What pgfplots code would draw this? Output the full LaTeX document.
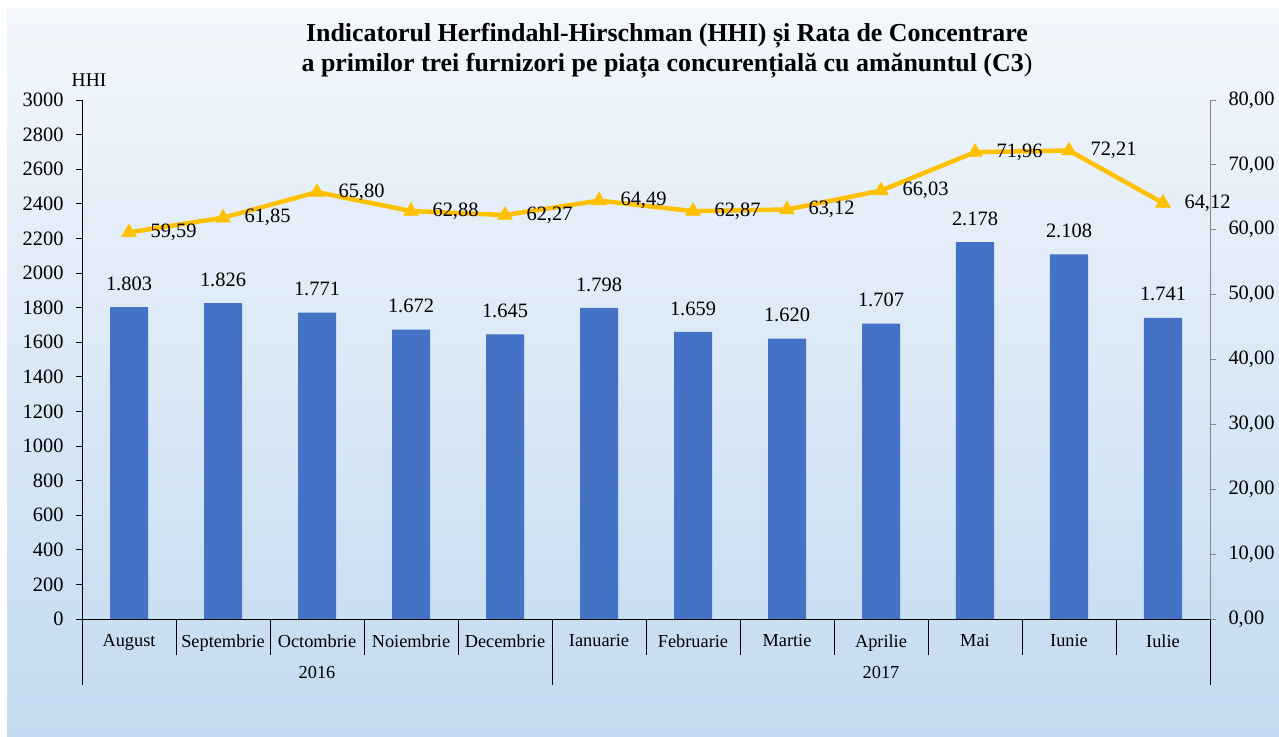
\documentclass[border=0pt]{standalone}
\usepackage{fontspec}
\setmainfont{Liberation Serif}
\usepackage{pgfplots}
\pgfplotsset{compat=1.18}
\definecolor{barblue}{HTML}{4472C4}
\definecolor{lineyel}{HTML}{FFC000}
\definecolor{bgtop}{HTML}{F3F7FC}
\definecolor{bgbot}{HTML}{C3DAF0}
\definecolor{raxis}{HTML}{868686}
\begin{document}
\begin{tikzpicture}
\useasboundingbox (0bp,0bp) rectangle (1279bp,737bp);
\fill[white] (0bp,0bp) rectangle (1279bp,737bp);
\shade[top color=bgtop, bottom color=bgbot] (7bp,0bp) rectangle (1279bp,728bp);
\node[font=\fontsize{26}{30}\selectfont\bfseries, align=center] at (667bp,686bp)
  {Indicatorul Herfindahl-Hirschman (HHI) și Rata de Concentrare\\a primilor trei furnizori pe piața concurențială cu amănuntul (C3\textmd{)}};
\node[font=\fontsize{19.5}{22}\selectfont] at (89bp,657bp) {HHI};
\begin{axis}[
  scale only axis, width=1128bp, height=519bp, at={(82bp,118bp)}, anchor=south west,
  xmin=-0.5, xmax=11.5, ymin=0, ymax=3000,
  axis y line*=left, axis x line*=bottom,
  axis line style={black, line width=0.8bp},
  ytick={0,200,...,3000},
  scaled y ticks=false,
  yticklabel style={font=\fontsize{20.5}{24}\selectfont, xshift=-9bp, /pgf/number format/1000 sep={}, /pgf/number format/assume math mode=true},
  xtick={0,...,11},
  xticklabels={August,Septembrie,Octombrie,Noiembrie,Decembrie,Ianuarie,Februarie,Martie,Aprilie,Mai,Iunie,Iulie},
  xticklabel style={font=\fontsize{18.4}{22}\selectfont, yshift=-6bp},
  major x tick style={draw=none},
  tick align=outside, major tick length=6bp,
  tick style={black, line width=0.8bp},
  clip=false,
]
\addplot[ybar, bar width=38bp, fill=barblue, draw=none,
  nodes near coords={\pgfmathprintnumber[fixed,precision=0,1000 sep={.},assume math mode=true]{\pgfplotspointmeta}},
  every node near coord/.append style={font=\fontsize{20.5}{24}\selectfont, anchor=south, yshift=13bp, black}]
coordinates {(0,1803) (1,1826) (2,1771) (3,1672) (4,1645) (5,1798) (6,1659) (7,1620) (8,1707) (9,2178) (10,2108) (11,1741)};
\pgfplotsinvokeforeach{0.5,1.5,2.5,3.5,5.5,6.5,7.5,8.5,9.5,10.5}{
  \draw[black, line width=0.8bp] (axis cs:#1,0) -- ++(0bp,-36bp);
}
\pgfplotsinvokeforeach{-0.5,4.5,11.5}{
  \draw[black, line width=0.8bp] (axis cs:#1,0) -- ++(0bp,-66bp);
}
\node[font=\fontsize{18.4}{22}\selectfont] at (axis cs:2,0) [yshift=-53bp] {2016};
\node[font=\fontsize{18.4}{22}\selectfont] at (axis cs:8,0) [yshift=-53bp] {2017};
\end{axis}
\begin{axis}[
  scale only axis, width=1128bp, height=519bp, at={(82bp,118bp)}, anchor=south west,
  xmin=-0.5, xmax=11.5, ymin=0, ymax=80,
  axis y line*=right, axis x line=none,
  axis line style={raxis, line width=0.8bp},
  ytick={0,10,...,80},
  yticklabel style={font=\fontsize{20.5}{24}\selectfont, xshift=9bp, /pgf/number format/fixed, /pgf/number format/fixed zerofill, /pgf/number format/precision=2, /pgf/number format/use comma, /pgf/number format/assume math mode=true},
  tick align=outside, major tick length=6bp,
  tick style={raxis, line width=0.8bp},
  clip=false,
]
\addplot[lineyel, line width=4.5bp, mark=triangle*, mark size=8.5bp, mark options={fill=lineyel, draw=lineyel, line width=0.5bp},
  nodes near coords={\pgfmathprintnumber[fixed,fixed zerofill,precision=2,use comma,assume math mode=true]{\pgfplotspointmeta}},
  every node near coord/.append style={font=\fontsize{20.5}{24}\selectfont, anchor=west, xshift=18bp, black}]
coordinates {(0,59.59) (1,61.85) (2,65.80) (3,62.88) (4,62.27) (5,64.49) (6,62.87) (7,63.12) (8,66.03) (9,71.96) (10,72.21) (11,64.12)};
\end{axis}
\end{tikzpicture}
\end{document}
